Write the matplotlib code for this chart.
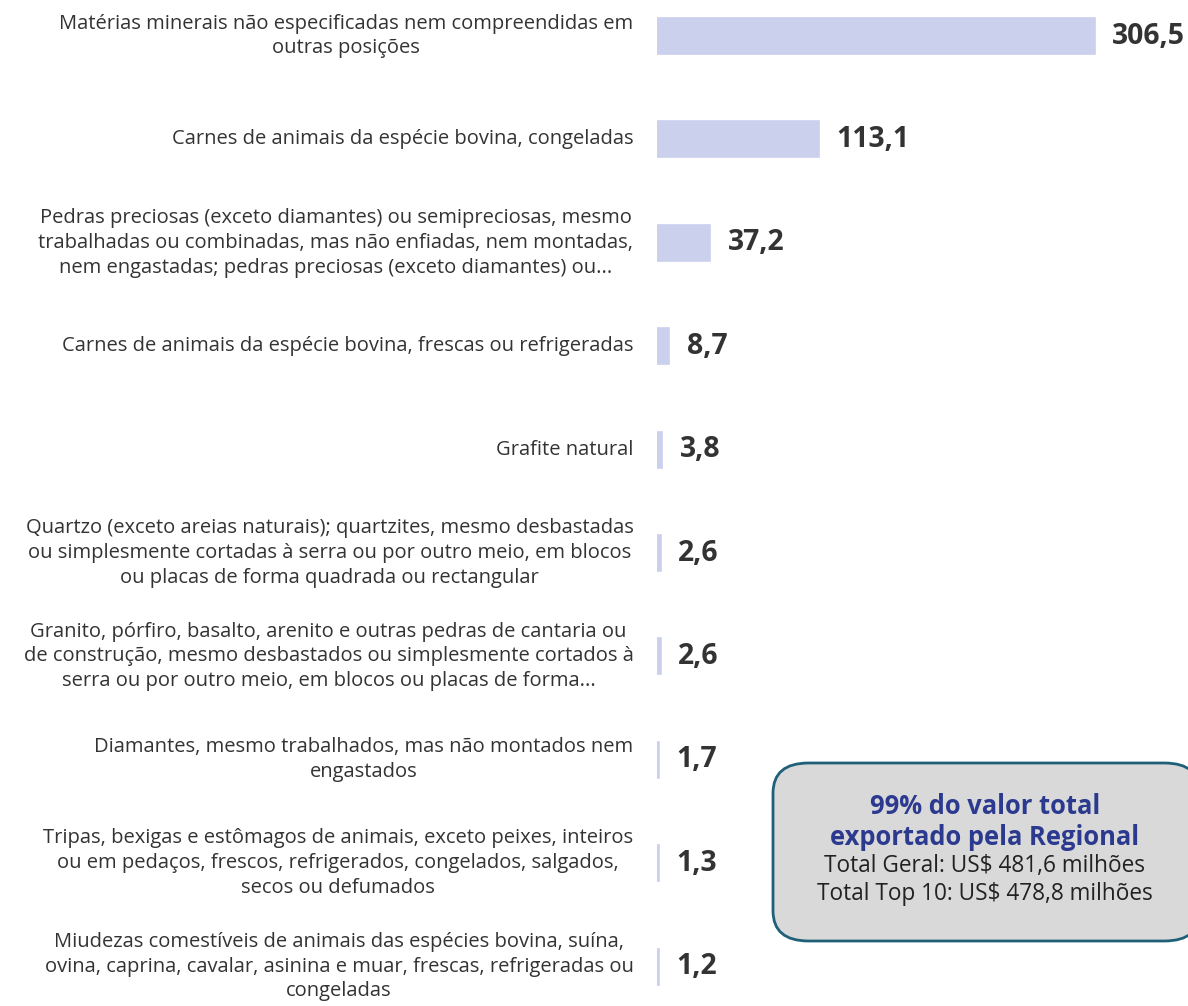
import matplotlib
matplotlib.use('Agg')
import matplotlib.pyplot as plt
from matplotlib.patches import FancyBboxPatch

plt.rcParams['font.family'] = ['Open Sans', 'DejaVu Sans']

# Top 10 export products (US$ millions)
labels = [
    'Matérias minerais não especificadas nem compreendidas em\noutras posições',
    'Carnes de animais da espécie bovina, congeladas',
    'Pedras preciosas (exceto diamantes) ou semipreciosas, mesmo\ntrabalhadas ou combinadas, mas não enfiadas, nem montadas,\nnem engastadas; pedras preciosas (exceto diamantes) ou...',
    'Carnes de animais da espécie bovina, frescas ou refrigeradas',
    'Grafite natural',
    'Quartzo (exceto areias naturais); quartzites, mesmo desbastadas\nou simplesmente cortadas à serra ou por outro meio, em blocos\nou placas de forma quadrada ou rectangular',
    'Granito, pórfiro, basalto, arenito e outras pedras de cantaria ou\nde construção, mesmo desbastados ou simplesmente cortados à\nserra ou por outro meio, em blocos ou placas de forma...',
    'Diamantes, mesmo trabalhados, mas não montados nem\nengastados',
    'Tripas, bexigas e estômagos de animais, exceto peixes, inteiros\nou em pedaços, frescos, refrigerados, congelados, salgados,\nsecos ou defumados',
    'Miudezas comestíveis de animais das espécies bovina, suína,\novina, caprina, cavalar, asinina e muar, frescas, refrigeradas ou\ncongeladas',
]
values = [306.5, 113.1, 37.2, 8.7, 3.8, 2.6, 2.6, 1.7, 1.3, 1.2]
value_text = ['306,5', '113,1', '37,2', '8,7', '3,8', '2,6', '2,6', '1,7', '1,3', '1,2']

box_title = '99% do valor total\nexportado pela Regional'
box_lines = 'Total Geral: US$ 481,6 milhões\nTotal Top 10: US$ 478,8 milhões'

W, H = 1188, 1006
fig = plt.figure(figsize=(W / 100, H / 100), dpi=100)
ax = fig.add_axes([657 / W, 0, 1 - 657 / W, 1])

bar_color = '#cbd0ec'
ypos = list(range(len(values)))
ax.barh(ypos, values, height=0.35, color=bar_color, edgecolor=bar_color, linewidth=1.2)

px_per_unit = 438 / 306.5
ax.set_xlim(0, (W - 657) / px_per_unit)
row = 103.4
ax.set_ylim((H - 36) / row, -36 / row)
ax.axis('off')

for i, (v, t) in enumerate(zip(values, value_text)):
    ax.annotate(t, xy=(v, i), xytext=(12.5, 0), textcoords='offset points',
                ha='left', va='center', fontsize=20.4, fontweight='bold', color='#333333')
    ax.annotate(labels[i], xy=(0, i), xytext=(-17, 0), textcoords='offset points',
                ha='right', va='center', multialignment='center', fontsize=14.5,
                color='#333333', linespacing=1.32, annotation_clip=False)

# summary box
box = FancyBboxPatch((773 / W, 1 - 941 / H), (1200 - 773) / W, (941 - 763) / H,
                     boxstyle='round,pad=0,rounding_size=0.03', transform=fig.transFigure,
                     facecolor='#d9d9d9', edgecolor='#1f5f78', linewidth=2, clip_on=False)
fig.patches.append(box)
fig.text(985 / W, 1 - 822 / H, box_title, ha='center', va='center', fontsize=18.4,
         fontweight='bold', color='#2b3a8f', linespacing=1.2)
fig.text(985 / W, 1 - 880 / H, box_lines, ha='center', va='center', fontsize=16.3,
         color='#222222', linespacing=1.2)

fig.savefig('out.png', dpi=100)
